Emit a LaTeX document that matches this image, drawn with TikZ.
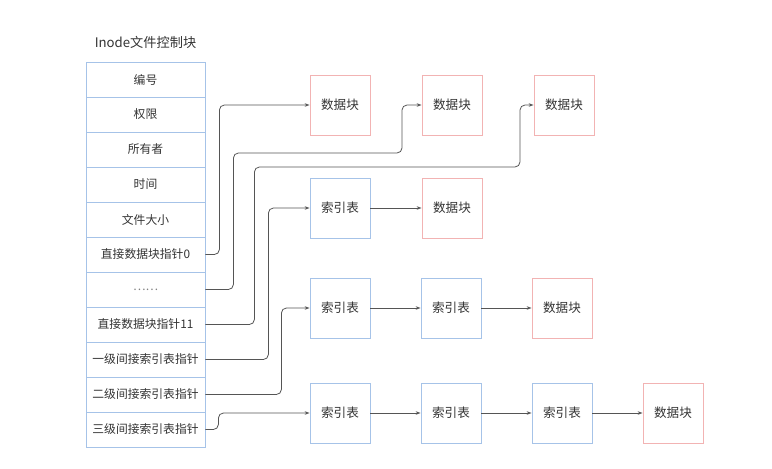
\documentclass[tikz,border=0pt]{standalone}
\usepackage{fontspec}
\setmainfont{Noto Sans CJK SC}
\usetikzlibrary{arrows.meta}
\definecolor{cellblue}{HTML}{A6C3E8}
\definecolor{cellred}{HTML}{F2B3B3}
\definecolor{inktext}{HTML}{333333}
\definecolor{inkline}{HTML}{555555}

\begin{document}
\begin{tikzpicture}[x=1pt,y=-1pt,
  every node/.style={text=inktext,font=\fontsize{11.8}{14}\selectfont},
  field/.style={draw=cellblue,line width=0.8pt,minimum width=119pt,minimum height=35pt,inner sep=0pt},
  table/.style={draw=cellblue,line width=0.8pt,minimum width=60pt,minimum height=60pt,inner sep=0pt,font=\fontsize{12.6}{15}\selectfont},
  block/.style={draw=cellred,line width=0.8pt,minimum width=60pt,minimum height=60pt,inner sep=0pt,font=\fontsize{12.6}{15}\selectfont},
  link/.style={draw=inkline,line width=0.8pt,rounded corners=5pt,-{Stealth[length=5pt,width=3.5pt]}}]
\useasboundingbox (0,0) rectangle (772,469);
% inode
\node[font=\fontsize{13.2}{16}\selectfont] (title) at (145.5,42) {Inode文件控制块};
\node[field] (f0) at (145.5,79.5) {编号};
\node[field] (f1) at (145.5,114.5) {权限};
\node[field] (f2) at (145.5,149.5) {所有者};
\node[field] (f3) at (145.5,184.5) {时间};
\node[field] (f4) at (145.5,219.5) {文件大小};
\node[field] (f5) at (145.5,254.5) {直接数据块指针0};
\node[field] (f6) at (145.5,289.5) {\color{gray}……};
\node[field] (f7) at (145.5,324.5) {直接数据块指针11};
\node[field] (f8) at (145.5,359.5) {一级间接索引表指针};
\node[field] (f9) at (145.5,394.5) {二级间接索引表指针};
\node[field] (f10) at (145.5,429.5) {三级间接索引表指针};
% direct
\node[block] (d1) at (340,105) {数据块};
\node[block] (d2) at (452,105) {数据块};
\node[block] (d3) at (564,105) {数据块};
% level 1
\node[table] (a1) at (340,208) {索引表};
\node[block] (a2) at (452,208) {数据块};
% level 2
\node[table] (b1) at (340,308) {索引表};
\node[table] (b2) at (451,308) {索引表};
\node[block] (b3) at (562,308) {数据块};
% level 3
\node[table] (c1) at (340,413) {索引表};
\node[table] (c2) at (451,413) {索引表};
\node[table] (c3) at (562,413) {索引表};
\node[block] (c4) at (673,413) {数据块};
% pointers
\draw[link] (f5.east) -- ++(14,0) |- (d1.west);
\draw[link] (f6.east) -- ++(28,0) |- (402,153) |- (d2.west);
\draw[link] (f7.east) -- ++(49,0) |- (520,167) |- (d3.west);
\draw[link] (f8.east) -- ++(63,0) |- (a1.west);
\draw[link] (f9.east) -- ++(76,0) |- (b1.west);
\draw[link] (f10.east) -- ++(13,0) |- (c1.west);
\draw[link] (a1) -- (a2);
\draw[link] (b1) -- (b2);
\draw[link] (b2) -- (b3);
\draw[link] (c1) -- (c2);
\draw[link] (c2) -- (c3);
\draw[link] (c3) -- (c4);
\end{tikzpicture}
\end{document}
